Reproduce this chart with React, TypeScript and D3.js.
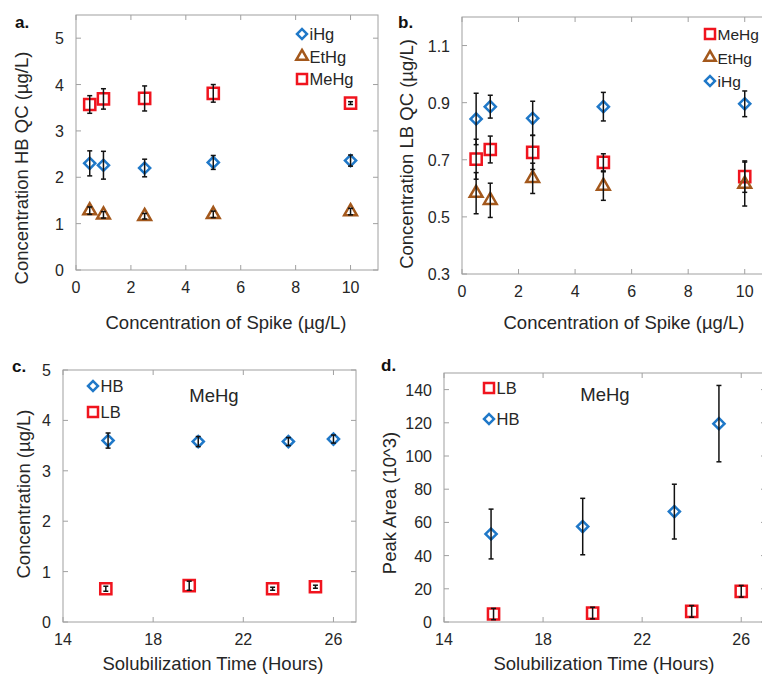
import React from 'react';
import * as d3 from 'd3';

// spike levels (a, b)
const spikeX = [0.5, 1, 2.5, 5, 10];

// panel a - HB QC
const aIHg = [2.3, 2.26, 2.2, 2.32, 2.36];
const aIHgErr = [0.27, 0.3, 0.19, 0.15, 0.12];
const aEtHg = [1.28, 1.19, 1.16, 1.2, 1.26];
const aEtHgErr = [0.08, 0.07, 0.06, 0.07, 0.07];
const aMeHg = [3.57, 3.69, 3.7, 3.81, 3.6];
const aMeHgErr = [0.19, 0.22, 0.27, 0.19, 0.03];

// panel b - LB QC
const bMeHg = [0.702, 0.736, 0.726, 0.691, 0.641];
const bMeHgErr = [0.07, 0.047, 0.06, 0.03, 0.055];
const bEtHg = [0.583, 0.558, 0.635, 0.608, 0.615];
const bEtHgErr = [0.072, 0.06, 0.053, 0.05, 0.077];
const bIHg = [0.843, 0.886, 0.845, 0.886, 0.896];
const bIHgErr = [0.09, 0.04, 0.06, 0.05, 0.045];

// panel c - concentration vs solubilization time
const cHBx = [16, 20, 24, 26];
const cHB = [3.6, 3.58, 3.58, 3.63];
const cHBErr = [0.15, 0.1, 0.08, 0.08];
const cLBx = [15.9, 19.6, 23.3, 25.2];
const cLB = [0.66, 0.72, 0.66, 0.7];
const cLBErr = [0.05, 0.09, 0.03, 0.03];

// panel d - peak area vs solubilization time
const dHBx = [15.9, 19.6, 23.3, 25.1];
const dHB = [53, 57.5, 66.5, 119.5];
const dHBErr = [15, 17, 16.5, 23];
const dLBx = [16, 20, 24, 26];
const dLB = [4.8, 5.4, 6.4, 18.5];
const dLBErr = [3.4, 3.5, 3.5, 3.5];

const spikeTicks = [0, 2, 4, 6, 8, 10];
const timeTicks = [14, 18, 22, 26];

const BLUE = '#1f78c8';
const RED = '#f0141e';
const BROWN = '#a3581c';
const FONT = '"Liberation Sans", Arial, sans-serif';

type Kind = 'diamond' | 'square' | 'triangle';

function markerPath(kind: Kind, k = 1) {
  if (kind === 'square') return d3.symbol(d3.symbolSquare, 125 * k)()!;
  if (kind === 'triangle') return d3.symbol(d3.symbolTriangle, 70 * k)()!;
  return d3.symbol(d3.symbolSquare, 62 * k)()!;
}

function Marker({ kind, color, x, y, k = 1 }: any) {
  const rot = kind === 'diamond' ? ' rotate(45)' : '';
  return (
    <path
      d={markerPath(kind, k)}
      transform={`translate(${x},${y})${rot}`}
      fill="none"
      stroke={color}
      strokeWidth={2.5}
      strokeLinejoin="miter"
    />
  );
}

type Series = { kind: Kind; color: string; xs: number[]; ys: number[]; err: number[]; name: string };

function Panel(props: any) {
  const { x0, x1, y0, y1, xDomain, yDomain, xTicks, yTicks, yFmt, series, legend, letter, xTitle, yTitle, note } = props;
  const x = d3.scaleLinear().domain(xDomain).range([x0, x1]);
  const y = d3.scaleLinear().domain(yDomain).range([y0, y1]);
  const tl = 5;
  const frame = '#a0a0a0';
  const lf = legend.font || 16.5;
  return (
    <g fontFamily={FONT}>
      <rect x={x0} y={y1} width={x1 - x0} height={y0 - y1} fill="none" stroke={frame} strokeWidth={1} />
      {xTicks.map((t: number) => (
        <g key={'x' + t}>
          <line x1={x(t)} x2={x(t)} y1={y0} y2={y0 - tl} stroke={frame} />
          <line x1={x(t)} x2={x(t)} y1={y1} y2={y1 + tl} stroke={frame} />
          <text x={x(t)} y={y0 + 23} textAnchor="middle" fontSize={16} fill="#262626">{t}</text>
        </g>
      ))}
      {yTicks.map((t: number) => (
        <g key={'y' + t}>
          <line x1={x0} x2={x0 + tl} y1={y(t)} y2={y(t)} stroke={frame} />
          <line x1={x1} x2={x1 - tl} y1={y(t)} y2={y(t)} stroke={frame} />
          <text x={x0 - 12} y={y(t) + 6} textAnchor="end" fontSize={16} fill="#262626">{yFmt(t)}</text>
        </g>
      ))}
      {series.map((s: Series) =>
        s.xs.map((xv, i) => <Marker key={s.name + i} kind={s.kind} color={s.color} x={x(xv)} y={y(s.ys[i])} />)
      )}
      {series.map((s: Series) =>
        s.xs.map((xv, i) => {
          const cx = x(xv);
          const hi = y(s.ys[i] + s.err[i]);
          const lo = y(s.ys[i] - s.err[i]);
          return (
            <g key={'e' + s.name + i} stroke="#111" strokeWidth={1.5}>
              <line x1={cx} x2={cx} y1={hi} y2={lo} />
              <line x1={cx - 2.5} x2={cx + 2.5} y1={hi} y2={hi} />
              <line x1={cx - 2.5} x2={cx + 2.5} y1={lo} y2={lo} />
            </g>
          );
        })
      )}
      {legend.items.map((s: Series, i: number) => (
        <g key={'l' + i}>
          <Marker kind={s.kind} color={s.color} x={legend.x} y={legend.y + i * legend.dy} k={0.8} />
          <text x={legend.x + 7.5} y={legend.y + i * legend.dy + 6} fontSize={lf} fill="#262626">{s.name}</text>
        </g>
      ))}
      {note && (
        <text x={note.x} y={note.y} fontSize={18.5} fill="#262626" textAnchor="middle">{note.text}</text>
      )}
      <text x={letter.x} y={letter.y} fontSize={17} fontWeight="bold" fill="#111">{letter.text}</text>
      <text x={xTitle.x} y={xTitle.y} fontSize={18.5} textAnchor="middle" fill="#262626">{xTitle.text}</text>
      <text
        transform={`translate(${yTitle.x},${yTitle.y}) rotate(-90)`}
        fontSize={18.5}
        textAnchor="middle"
        fill="#262626"
      >
        {yTitle.text}
      </text>
    </g>
  );
}

export default function App() {
  const aIHgS: Series = { kind: 'diamond', color: BLUE, xs: spikeX, ys: aIHg, err: aIHgErr, name: 'iHg' };
  const aEtS: Series = { kind: 'triangle', color: BROWN, xs: spikeX, ys: aEtHg, err: aEtHgErr, name: 'EtHg' };
  const aMeS: Series = { kind: 'square', color: RED, xs: spikeX, ys: aMeHg, err: aMeHgErr, name: 'MeHg' };
  const bMeS: Series = { kind: 'square', color: RED, xs: spikeX, ys: bMeHg, err: bMeHgErr, name: 'MeHg' };
  const bEtS: Series = { kind: 'triangle', color: BROWN, xs: spikeX, ys: bEtHg, err: bEtHgErr, name: 'EtHg' };
  const bIHgS: Series = { kind: 'diamond', color: BLUE, xs: spikeX, ys: bIHg, err: bIHgErr, name: 'iHg' };
  const cHBS: Series = { kind: 'diamond', color: BLUE, xs: cHBx, ys: cHB, err: cHBErr, name: 'HB' };
  const cLBS: Series = { kind: 'square', color: RED, xs: cLBx, ys: cLB, err: cLBErr, name: 'LB' };
  const dHBS: Series = { kind: 'diamond', color: BLUE, xs: dHBx, ys: dHB, err: dHBErr, name: 'HB' };
  const dLBS: Series = { kind: 'square', color: RED, xs: dLBx, ys: dLB, err: dLBErr, name: 'LB' };

  return (
    <svg width={762} height={675} style={{ position: 'absolute', left: 0, top: 0, background: '#fff' }}>
      <Panel
        x0={76} x1={378} y0={270} y1={15}
        xDomain={[0, 11]} yDomain={[0, 5.5]}
        xTicks={spikeTicks} yTicks={[0, 1, 2, 3, 4, 5]} yFmt={(t: number) => String(t)}
        series={[aIHgS, aEtS, aMeS]}
        legend={{ x: 302, y: 34, dy: 22.5, items: [aIHgS, aEtS, aMeS] }}
        letter={{ x: 15, y: 28, text: 'a.' }}
        xTitle={{ x: 226, y: 329, text: 'Concentration of Spike (µg/L)' }}
        yTitle={{ x: 28, y: 168, text: 'Concentration HB QC (µg/L)' }}
      />
      <Panel
        x0={462} x1={773} y0={274} y1={17}
        xDomain={[0, 11]} yDomain={[0.3, 1.2]}
        xTicks={spikeTicks} yTicks={[0.3, 0.5, 0.7, 0.9, 1.1]} yFmt={(t: number) => d3.format('.1f')(t)}
        series={[bMeS, bEtS, bIHgS]}
        legend={{ x: 710, y: 34, dy: 23.5, font: 15.5, items: [bMeS, bEtS, bIHgS] }}
        letter={{ x: 398, y: 28, text: 'b.' }}
        xTitle={{ x: 624, y: 329, text: 'Concentration of Spike (µg/L)' }}
        yTitle={{ x: 413, y: 154, text: 'Concentration LB QC (µg/L)' }}
      />
      <Panel
        x0={63} x1={356} y0={622} y1={370}
        xDomain={[14, 27]} yDomain={[0, 5]}
        xTicks={timeTicks} yTicks={[0, 1, 2, 3, 4, 5]} yFmt={(t: number) => String(t)}
        series={[cHBS, cLBS]}
        legend={{ x: 93, y: 386, dy: 26, items: [cHBS, cLBS] }}
        note={{ x: 214, y: 402, text: 'MeHg' }}
        letter={{ x: 12, y: 372, text: 'c.' }}
        xTitle={{ x: 213, y: 670, text: 'Solubilization Time (Hours)' }}
        yTitle={{ x: 30, y: 494, text: 'Concentration (µg/L)' }}
      />
      <Panel
        x0={444} x1={766} y0={622} y1={373}
        xDomain={[14, 27]} yDomain={[0, 150]}
        xTicks={timeTicks} yTicks={[0, 20, 40, 60, 80, 100, 120, 140]} yFmt={(t: number) => String(t)}
        series={[dHBS, dLBS]}
        legend={{ x: 489, y: 388, dy: 31, items: [dLBS, dHBS] }}
        note={{ x: 605, y: 401, text: 'MeHg' }}
        letter={{ x: 381, y: 371, text: 'd.' }}
        xTitle={{ x: 604, y: 670, text: 'Solubilization Time (Hours)' }}
        yTitle={{ x: 396, y: 503, text: 'Peak Area (10^3)' }}
      />
    </svg>
  );
}
